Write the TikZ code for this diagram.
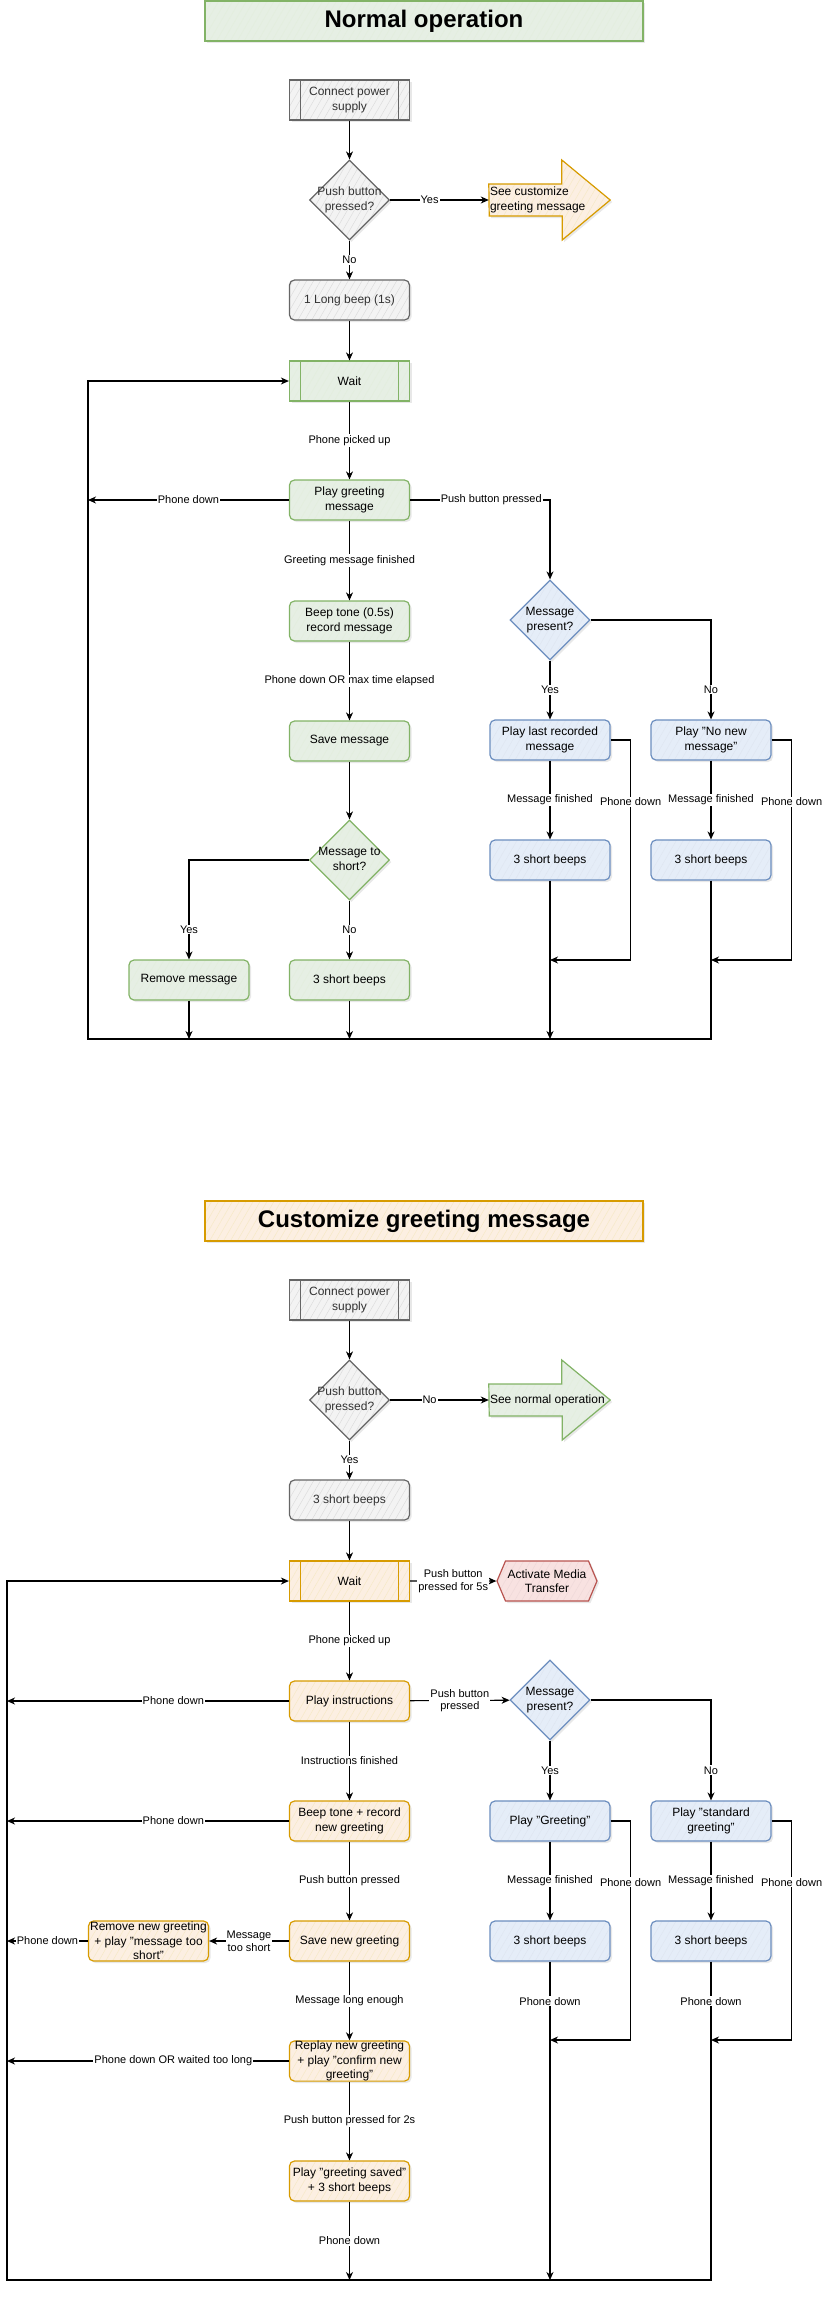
\documentclass[tikz,border=0pt]{standalone}
\usepackage{fontspec}
\setmainfont{Liberation Sans}
\usepackage{tikz}
\usetikzlibrary{arrows.meta, shapes.geometric, shapes.symbols, shadows, backgrounds, patterns.meta}

\definecolor{grayfill}{HTML}{F3F3F3}
\definecolor{grayline}{HTML}{666666}
\definecolor{graytext}{HTML}{333333}
\definecolor{greenfill}{HTML}{E6EFE4}
\definecolor{greenline}{HTML}{82B366}
\colorlet{greentext}{black}
\definecolor{orangefill}{HTML}{FCEFE2}
\definecolor{orangeline}{HTML}{D79B00}
\colorlet{orangetext}{black}
\definecolor{bluefill}{HTML}{E5EDF8}
\definecolor{blueline}{HTML}{6C8EBF}
\colorlet{bluetext}{black}
\definecolor{redfill}{HTML}{F8E2E1}
\definecolor{redline}{HTML}{B85450}
\colorlet{redtext}{black}
\newcommand{\decisiontext}[1]{\makebox[0pt]{\begin{tabular}{@{}c@{}}#1\end{tabular}}}

\begin{document}
\begin{tikzpicture}[x = 1pt, y = -1pt,
    every node/.style = {font = \fontsize{12}{14.5}\selectfont, align = center},
    softshadow/.style = {drop shadow = {shadow xshift = 2pt, shadow yshift = -2pt, opacity = 0.18}},
    hatch/.style = {softshadow, preaction = {fill = #1fill},
        preaction = {pattern = {Lines[angle = 60, distance = 6pt, line width = 0.5pt]}, pattern color = #1line!22},
        draw = #1line, line width = 1.2pt},
    box/.style = {rectangle, rounded corners = 5pt, hatch = #1, text = #1text,
        minimum width = 120pt, minimum height = 40pt, inner sep = 1pt},
    predef/.style = {box = #1, sharp corners, path picture = {
        \draw[#1line, line width = 1pt]
            ([xshift = 11pt] path picture bounding box.north west) -- ([xshift = 11pt] path picture bounding box.south west)
            ([xshift = -11pt] path picture bounding box.north east) -- ([xshift = -11pt] path picture bounding box.south east);}},
    decision/.style = {diamond, aspect = 1, hatch = #1, text = #1text,
        minimum width = 80pt, minimum height = 80pt, inner sep = 0pt},
    hexa/.style = {signal, signal to = west and east, signal pointer angle = 134, hatch = #1,
        text = #1text, minimum width = 100pt, minimum height = 40pt, inner sep = 0pt},
    headline/.style = {box = #1, sharp corners, minimum width = 438pt, minimum height = 40pt,
        font = \fontsize{24}{28}\selectfont\bfseries},
    bigarrow/.style = {hatch = #1},
    arrowtext/.style = {minimum width = 121pt, minimum height = 80pt, inner xsep = 1pt, inner ysep = 3pt,
        text width = 119pt, align = flush left},
    flow/.style = {-{Stealth[length = 8pt, width = 7pt, inset = 2.5pt]}, line width = 1.1pt, black},
    elabel/.style = {fill = white, inner sep = 1pt, font = \fontsize{11}{12.5}\selectfont, text = black}]

    \useasboundingbox (0, 0) rectangle (829, 2300);

    % normal operation
    \node[headline = green]  (titleA)   at (424, 21)     {Normal operation};
    \node[predef = gray]     (cps1)     at (349.5, 100)  {Connect power\\supply};
    \node[decision = gray]   (pb1)      at (349.5, 200)  {\decisiontext{Push button\\pressed?}};
    \node[arrowtext]         (custom)   at (549.5, 200)  {See customize\\greeting message};
    \node[box = gray]        (beep1)    at (349.5, 300)  {1 Long beep (1s)};
    \node[predef = green]    (wait1)    at (349.5, 381)  {Wait};
    \node[box = green]       (greet1)   at (349.5, 500)  {Play greeting\\message};
    \node[box = green]       (rec1)     at (349.5, 621)  {Beep tone (0.5s)\\record message};
    \node[box = green]       (save1)    at (349.5, 741)  {Save message};
    \node[decision = green]  (short1)   at (349.5, 860)  {\decisiontext{Message to\\short?}};
    \node[box = green]       (remove1)  at (189, 980)    {Remove message};
    \node[box = green]       (beeps1)   at (349.5, 980)  {3 short beeps};
    \node[decision = blue]   (present1) at (550, 620)    {\decisiontext{Message\\present?}};
    \node[box = blue]        (last1)    at (550, 740)    {Play last recorded\\message};
    \node[box = blue]        (nonew1)   at (711, 740)    {Play "No new\\message"};
    \node[box = blue]        (beepsA)   at (550, 860)    {3 short beeps};
    \node[box = blue]        (beepsB)   at (711, 860)    {3 short beeps};

    \coordinate (botL1) at (88, 1039);
    \coordinate (botR1) at (711, 1039);
    \coordinate (joinA) at (550, 960);
    \coordinate (joinB) at (711, 960);

    \foreach \from/\to in {cps1/pb1, beep1/wait1, save1/short1}
        \path (\from) edge [flow] (\to);
    \foreach \from/\txt/\to in {pb1/No/beep1, wait1/Phone picked up/greet1, greet1/Greeting message finished/rec1,
        rec1/Phone down OR max time elapsed/save1, short1/No/beeps1, present1/Yes/last1,
        last1/Message finished/beepsA, nonew1/Message finished/beepsB}
        \path (\from) edge [flow] node[elabel] {\txt} (\to);
    \foreach \from in {remove1, beeps1, beepsA}
        \draw[flow] (\from) -- (\from |- botL1);

    \draw[flow] (pb1) -- node[elabel, pos = 0.4] {Yes} (custom);
    \draw[flow] (greet1) -- node[elabel] {Phone down} (greet1 -| botL1);
    \draw[flow] (greet1) -| node[elabel, pos = 0.29] {Push button pressed} (present1);
    \draw[flow] (short1) -| node[elabel, pos = 0.85] {Yes} (remove1);
    \draw[flow] (present1) -| node[elabel, pos = 0.85] {No} (nonew1);
    \draw[flow] (last1.east) -- ++(20, 0) |- node[elabel, pos = 0.14] {Phone down} (joinA);
    \draw[flow] (nonew1.east) -- ++(20, 0) |- node[elabel, pos = 0.14] {Phone down} (joinB);
    \draw[flow] (beepsB) -- (botR1) -- (botL1) |- (wait1);

    % customize greeting message
    \node[headline = orange] (titleB)    at (424, 1221)   {Customize greeting message};
    \node[predef = gray]     (cps2)      at (349.5, 1300) {Connect power\\supply};
    \node[decision = gray]   (pb2)       at (349.5, 1400) {\decisiontext{Push button\\pressed?}};
    \node[arrowtext]         (normal)    at (549.5, 1400) {See normal operation};
    \node[box = gray]        (beeps2)    at (349.5, 1500) {3 short beeps};
    \node[predef = orange]   (wait2)     at (349.5, 1581) {Wait};
    \node[hexa = red]        (media)     at (547, 1581)   {Activate Media\\Transfer};
    \node[box = orange]      (instr)     at (349.5, 1701) {Play instructions};
    \node[decision = blue]   (present2)  at (550, 1700)   {\decisiontext{Message\\present?}};
    \node[box = orange]      (recnew)    at (349.5, 1821) {Beep tone + record\\new greeting};
    \node[box = orange]      (savenew)   at (349.5, 1941) {Save new greeting};
    \node[box = orange, inner ysep = 0pt] (removenew) at (148.5, 1941) {Remove new greeting\\+ play "message too\\short"};
    \node[box = orange, inner ysep = 0pt] (replay)    at (349.5, 2061) {Replay new greeting\\+ play "confirm new\\greeting"};
    \node[box = orange]      (saved)     at (349.5, 2181) {Play "greeting saved"\\+ 3 short beeps};
    \node[box = blue]        (playgreet) at (550, 1821)   {Play "Greeting"};
    \node[box = blue]        (standard)  at (711, 1821)   {Play "standard\\greeting"};
    \node[box = blue]        (beepsC)    at (550, 1941)   {3 short beeps};
    \node[box = blue]        (beepsD)    at (711, 1941)   {3 short beeps};

    \coordinate (botL2) at (7, 2280);
    \coordinate (botR2) at (711, 2280);
    \coordinate (joinC) at (550, 2040);
    \coordinate (joinD) at (711, 2040);

    \foreach \from/\to in {cps2/pb2, beeps2/wait2}
        \path (\from) edge [flow] (\to);
    \foreach \from/\txt/\to in {pb2/Yes/beeps2, wait2/Phone picked up/instr, instr/Instructions finished/recnew,
        recnew/Push button pressed/savenew, savenew/Message long enough/replay,
        replay/Push button pressed for 2s/saved, present2/Yes/playgreet,
        playgreet/Message finished/beepsC, standard/Message finished/beepsD,
        wait2/{Push button\\pressed for 5s}/media, instr/{Push button\\pressed}/present2,
        savenew/{Message\\too short}/removenew}
        \path (\from) edge [flow] node[elabel] {\txt} (\to);
    \foreach \from/\txt in {instr/Phone down, recnew/Phone down, replay/Phone down OR waited too long}
        \draw[flow] (\from) -- node[elabel, pos = 0.41] {\txt} (\from -| botL2);

    \draw[flow] (pb2) -- node[elabel, pos = 0.4] {No} (normal);
    \draw[flow] (removenew) -- node[elabel] {Phone down} (removenew -| botL2);
    \draw[flow] (saved) -- node[elabel] {Phone down} (saved |- botL2);
    \draw[flow] (beepsC) -- node[elabel, pos = 0.125] {Phone down} (beepsC |- botL2);
    \draw[flow] (present2) -| node[elabel, pos = 0.85] {No} (standard);
    \draw[flow] (playgreet.east) -- ++(20, 0) |- node[elabel, pos = 0.14] {Phone down} (joinC);
    \draw[flow] (standard.east) -- ++(20, 0) |- node[elabel, pos = 0.14] {Phone down} (joinD);
    \draw[flow] (beepsD) -- node[elabel, pos = 0.125] {Phone down} (botR2) -- (botL2) |- (wait2);

    \begin{scope}[on background layer]
        \draw[bigarrow = orange] (custom.west) ++(0, -16) -- ++(73, 0) -- ++(0, -24) -- (custom.east)
            -- ++(-48, 40) -- ++(0, -24) -- ++(-73, 0) -- cycle;
        \draw[bigarrow = green] (normal.west) ++(0, -16) -- ++(73, 0) -- ++(0, -24) -- (normal.east)
            -- ++(-48, 40) -- ++(0, -24) -- ++(-73, 0) -- cycle;
    \end{scope}

\end{tikzpicture}
\end{document}
